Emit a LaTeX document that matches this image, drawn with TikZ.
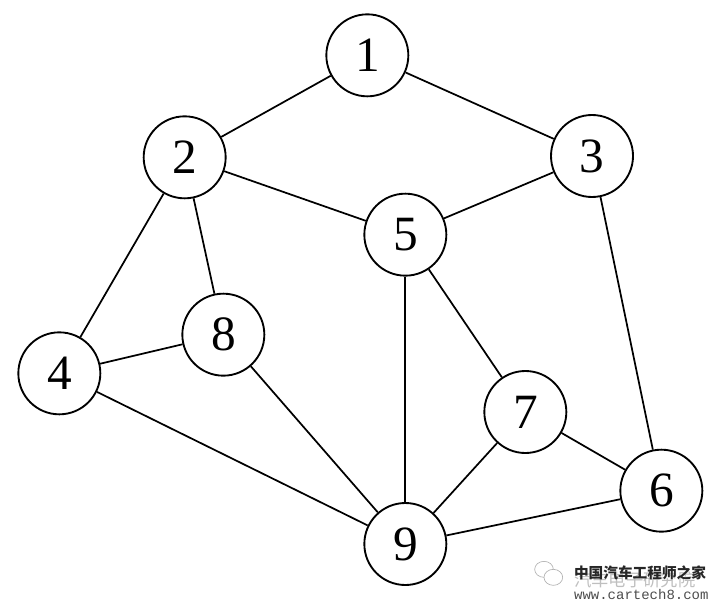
\documentclass[tikz,border=0pt]{standalone}
\usepackage{fontspec}
\setmainfont{Liberation Serif}
\setmonofont{Liberation Mono}
\newfontfamily\cjk{Noto Sans CJK SC}
\begin{document}
\begin{tikzpicture}[x=1pt,y=-1pt]
\tikzset{vertex/.style = {shape=circle, draw, fill=white, line width=1.4pt, minimum size=61.5pt, inner sep=0pt, font=\fontsize{37}{37}\selectfont}}
\tikzset{edge/.style = {draw=black, line width=1.3pt, -}}
\useasboundingbox (0,0) rectangle (540,457.5);
% Define the vertices
\node[vertex] (1) at (275.5,41.5){1};
\node[vertex] (2) at (138.5,118){2};
\node[vertex] (3) at (444,117){3};
\node[vertex] (4) at (44.5,280){4};
\node[vertex] (5) at (304,176){5};
\node[vertex] (6) at (496,368){6};
\node[vertex] (7) at (394,309){7};
\node[vertex] (8) at (167.5,251){8};
\node[vertex] (9) at (304,408){9};

% Draw the edges
\draw[edge] (1) -- (2);
\draw[edge] (1) -- (3);
\draw[edge] (2) -- (5);
\draw[edge] (2) -- (4);
\draw[edge] (2) -- (8);
\draw[edge] (3) -- (5);
\draw[edge] (3) -- (6);
\draw[edge] (4) -- (8);
\draw[edge] (4) -- (9);
\draw[edge] (5) -- (7);
\draw[edge] (5) -- (9);
\draw[edge] (6) -- (7);
\draw[edge] (6) -- (9);
\draw[edge] (7) -- (9);
\draw[edge] (8) -- (9);

% Watermark
\draw[black!30, line width=0.5pt] (408,427) ellipse [x radius=7pt, y radius=6pt];
\draw[black!30, line width=0.5pt, fill=white] (415,433) ellipse [x radius=7pt, y radius=6pt];
\node[font=\cjk\fontsize{13}{13}\selectfont, black!25] (faint) at (476,435){汽车电子研究院};
\node[font=\cjk\bfseries\fontsize{11}{11}\selectfont, black!85] (mark) at (480,430){中国汽车工程师之家};
\node[font=\ttfamily\fontsize{10.5}{10.5}\selectfont, black!70] (site) at (481,446){www.cartech8.com};
\end{tikzpicture}
\end{document}
